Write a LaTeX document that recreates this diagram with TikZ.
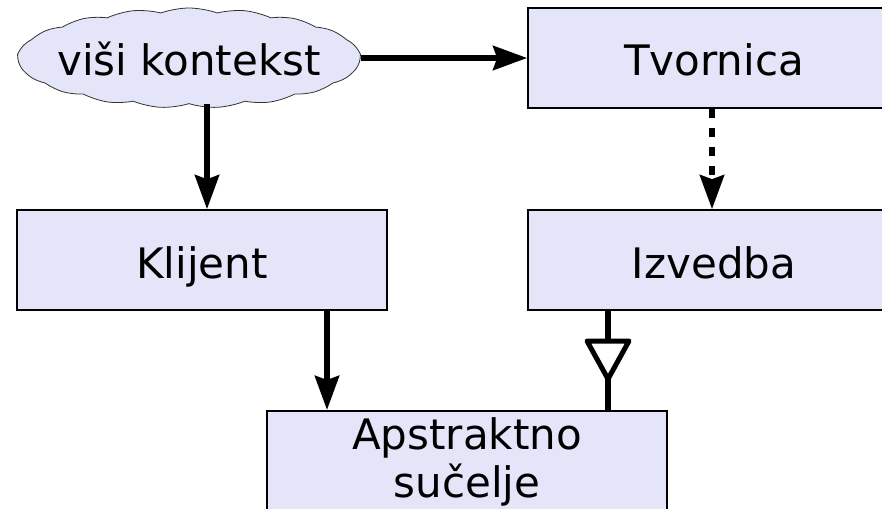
\documentclass[tikz,border=0pt]{standalone}
\usepackage{fontspec}
\setmainfont{DejaVu Sans}
\usetikzlibrary{arrows.meta,shapes.symbols}
\definecolor{boxfill}{RGB}{229,229,250}
\tikzset{
  box/.style={draw=black, line width=1.6pt, fill=boxfill, minimum height=100pt, inner sep=0pt,
    font=\fontsize{42}{48}\selectfont},
  txt/.style={text height=40pt, text depth=4pt},
  conn/.style={line width=6pt, -{Stealth[length=34pt,width=24pt,inset=4pt]}},
  dconn/.style={conn, dash pattern=on 9pt off 10pt},
}
\begin{document}
\begin{tikzpicture}[x=1pt,y=-1pt]
\useasboundingbox (0,0) rectangle (882,508);
\clip (0,0) rectangle (882,508);
\node[box, shape=cloud, cloud puffs=19, cloud puff arc=40, cloud ignores aspect, line width=0.8pt, draw=black!80,
  minimum width=342pt, minimum height=100pt] (ctx) at (189,58) {};
\node[font=\fontsize{42}{48}\selectfont, txt, inner sep=0pt] (ctxt) at (189,58) {viši kontekst};
\node[box, txt, minimum width=372pt] (tv) at (714,58) {Tvornica};
\node[box, txt, minimum width=370pt] (kl) at (202,260) {Klijent};
\node[box, txt, minimum width=372pt] (iz) at (714,260) {Izvedba};
\node[box, minimum width=400pt, minimum height=0pt, anchor=north, align=center, inner ysep=7pt]
  (ap) at (467,410) {Apstraktno\\sučelje\rule[-30pt]{0pt}{30pt}};
\coordinate (xk) at (207,0);
\coordinate (xa) at (327,0);
\coordinate (xi) at (608,0);
\coordinate (xt) at (712,0);
\coordinate (ttop) at (608,341);
\coordinate (tl) at (587,341);
\coordinate (tr) at (629,341);
\coordinate (tapex) at (608,379);
\draw[conn] (ctx.east |- tv.west) -- (tv.west);
\draw[conn] (ctx.south -| xk) -- (kl.north -| xk);
\draw[dconn] (tv.south -| xt) -- (iz.north -| xt);
\draw[conn] (kl.south -| xa) -- (ap.north -| xa);
\draw[line width=6pt] (iz.south -| xi) -- (ttop);
\draw[line width=5pt, line join=round] (tl) -- (tr) -- (tapex) -- cycle;
\draw[line width=6pt] (tapex) -- (ap.north -| xi);
\end{tikzpicture}
\end{document}
